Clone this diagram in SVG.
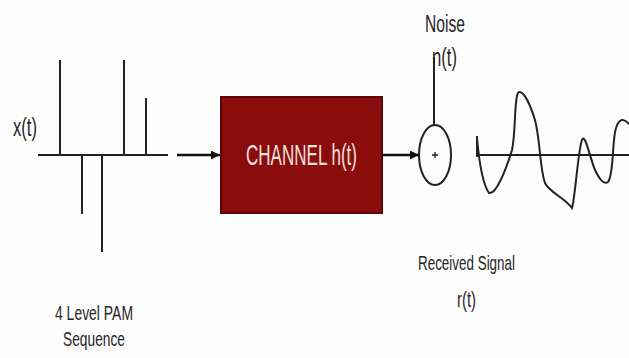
<svg xmlns="http://www.w3.org/2000/svg" width="629" height="358" viewBox="0 0 629 358">
<defs>
<style>
.t{font-family:"Liberation Sans",Arial,sans-serif;fill:#262626;}
.ln{stroke:#222;stroke-width:2;fill:none;}
.cn{stroke:#111;stroke-width:2.5;fill:none;}
</style>
<marker id="ah" viewBox="0 0 10 10" refX="10" refY="5" markerWidth="10" markerHeight="9" markerUnits="userSpaceOnUse" orient="auto">
<path d="M0,0 L10,5 L0,10 z" fill="#111"/>
</marker>
</defs>
<rect width="629" height="358" fill="#fdfdfd"/>
<g id="pam-sequence">
<line class="ln" x1="38" y1="155" x2="168" y2="155"/>
<line class="ln" x1="60" y1="60" x2="60" y2="155"/>
<line class="ln" x1="82" y1="155" x2="82" y2="214"/>
<line class="ln" x1="102" y1="155" x2="102" y2="252"/>
<line class="ln" x1="124" y1="60" x2="124" y2="155"/>
<line class="ln" x1="146" y1="98" x2="146" y2="155" stroke-width="3"/>
<text class="t" transform="translate(13,136) scale(1,1.5)" font-size="16.6" textLength="24" lengthAdjust="spacingAndGlyphs">x(t)</text>
<text class="t" transform="translate(55,320) scale(1,1.52)" font-size="13.8" textLength="78" lengthAdjust="spacingAndGlyphs">4 Level PAM</text>
<text class="t" transform="translate(63,346) scale(1,1.52)" font-size="13.8" textLength="62" lengthAdjust="spacingAndGlyphs">Sequence</text>
</g>
<g id="channel">
<rect x="221" y="97" width="161" height="116" fill="#8a0c0c" stroke="#5e0505" stroke-width="2"/>
<text class="t" transform="translate(246,165) scale(1,1.72)" font-size="16.9" textLength="111" lengthAdjust="spacingAndGlyphs" style="fill:#f6e2de">CHANNEL h(t)</text>
</g>
<g id="adder">
<ellipse cx="435" cy="155" rx="16" ry="30" fill="none" stroke="#222" stroke-width="2"/>
<path d="M432,155 h6 M435,152 v6" stroke="#222" stroke-width="1.3"/>
<line class="ln" x1="434" y1="125" x2="434" y2="57"/>
<text class="t" transform="translate(425,32) scale(1,1.52)" font-size="15.6" textLength="40" lengthAdjust="spacingAndGlyphs">Noise</text>
<text class="t" transform="translate(432,66) scale(1,1.5)" font-size="16.7" textLength="25" lengthAdjust="spacingAndGlyphs">n(t)</text>
</g>
<g id="received-signal">
<line class="ln" x1="477" y1="155" x2="629" y2="155"/>
<line class="ln" x1="477" y1="136" x2="477" y2="157"/>
<path class="ln" d="M477,138 C479,160 483,185 489,193 C496,195 506,170 512,150 C516,132 514,100 518,93 C521,89 528,97 535,120 C540,138 540,170 545,183 C549,192 565,198 572,208 C575,200 578,150 582,140 C585,132 590,158 595,170 C599,178 603,185 608,182 C614,175 612,140 616,128 C619,118 624,118 629,124"/>
<text class="t" transform="translate(418,270) scale(1,1.56)" font-size="13.4" textLength="97" lengthAdjust="spacingAndGlyphs">Received Signal</text>
<text class="t" transform="translate(457,307) scale(1,1.5)" font-size="14.9" textLength="19" lengthAdjust="spacingAndGlyphs">r(t)</text>
</g>
<g id="connectors">
<line class="cn" x1="177" y1="155" x2="220" y2="155" marker-end="url(#ah)"/>
<line class="cn" x1="382" y1="155" x2="419" y2="155" marker-end="url(#ah)"/>
</g>
</svg>
